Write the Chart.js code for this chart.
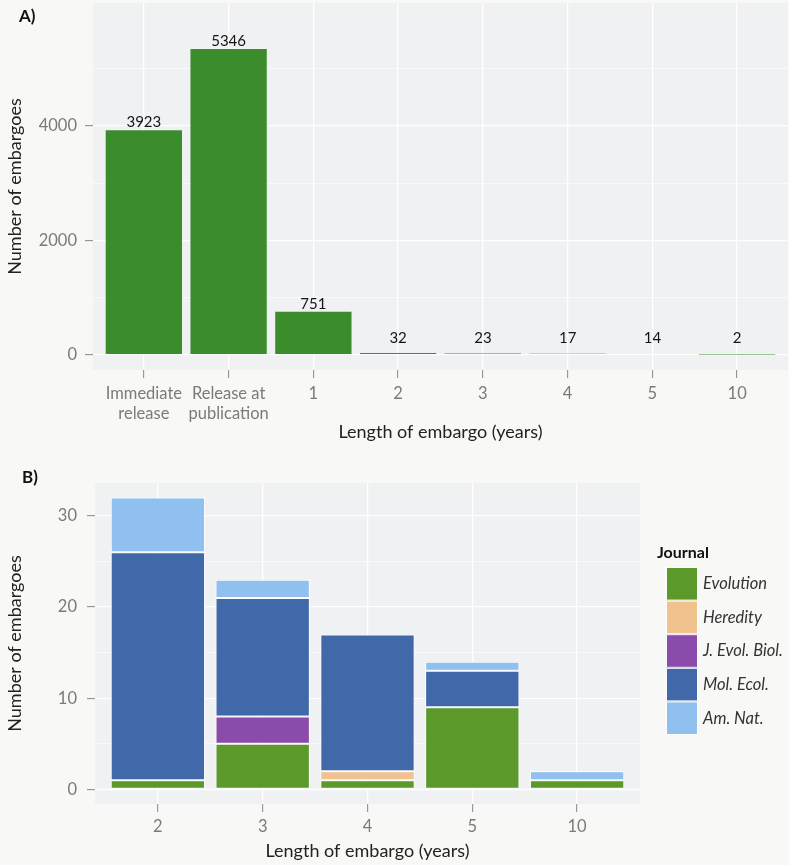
<!DOCTYPE html>
<html>
<head>
<meta charset="utf-8">
<script src="https://cdn.jsdelivr.net/npm/chart.js@4.4.1/dist/chart.umd.min.js"></script>
<style>
  html, body { margin: 0; padding: 0; background: #f8f8f7; }
  body { width: 789px; height: 865px; position: relative; overflow: hidden; font-family: Lato, sans-serif; }
  .wrap { position: absolute; left: 0; width: 789px; }
  #wa { top: 0; height: 446px; }
  #wb { top: 460px; height: 405px; }
  .tag { position: absolute; font: bold 17px Lato, sans-serif; color: #111; }
</style>
</head>
<body>
<div class="wrap" id="wa"><canvas id="ca" width="789" height="446"></canvas></div>
<div class="wrap" id="wb"><canvas id="cb" width="789" height="405"></canvas></div>
<div class="tag" style="left:19px;top:5px">A)</div>
<div class="tag" style="left:22px;top:466px">B)</div>
<script>
// Panel A: all embargoes by length
const embargoLabels = [["Immediate", "release"], ["Release at", "publication"], "1", "2", "3", "4", "5", "10"];
const embargoCounts = [3923, 5346, 751, 32, 23, 17, 14, 2];
const countTicks = [0, 2000, 4000];
const countMinorTicks = [1000, 3000, 5000];

// Panel B: embargoes of two years or more, by journal
const lengthLabels = ["2", "3", "4", "5", "10"];
const journals = ["Evolution", "Heredity", "J. Evol. Biol.", "Mol. Ecol.", "Am. Nat."];
const evolution = [1, 5, 1, 9, 1];
const heredity  = [0, 0, 1, 0, 0];
const jEvolBiol = [0, 3, 0, 0, 0];
const molEcol   = [25, 13, 15, 4, 0];
const amNat     = [6, 2, 0, 1, 1];
const journalTicks = [0, 10, 20, 30];
const journalMinorTicks = [5, 15, 25];

const journalColors = ["#5b9a2a", "#efc28e", "#8a4bab", "#4169aa", "#90c0f0"];
const FONT = "Lato";
const TICK_SIZE = 16.5;
const TITLE_SIZE = 18;

Chart.defaults.font.family = FONT;
Chart.defaults.animation = false;

// grey ggplot-style panel behind the plotting area
const panelBg = {
  id: "panelBg",
  beforeDraw(chart) {
    const { ctx, chartArea: a } = chart;
    ctx.save();
    ctx.fillStyle = "#eff1f3";
    ctx.fillRect(a.left, a.top, a.right - a.left, a.bottom - a.top);
    ctx.restore();
  }
};

// count written above each bar
const valueLabels = {
  id: "valueLabels",
  afterDatasetsDraw(chart) {
    const ctx = chart.ctx;
    const meta = chart.getDatasetMeta(0);
    const zeroY = chart.scales.y.getPixelForValue(0);
    ctx.save();
    ctx.font = "15px " + FONT;
    ctx.fillStyle = "#151515";
    ctx.textAlign = "center";
    ctx.textBaseline = "alphabetic";
    meta.data.forEach((bar, i) => {
      const y = Math.min(bar.y - 3, zeroY - 12);
      ctx.fillText(String(embargoCounts[i]), bar.x, y);
    });
    ctx.restore();
  }
};

// fill legend with stacked colour keys
const journalKey = {
  id: "journalKey",
  afterDraw(chart) {
    const ctx = chart.ctx;
    const x0 = 666, y0 = 107, w = 32, h = 33.6;
    ctx.save();
    ctx.font = "bold 16px " + FONT;
    ctx.fillStyle = "#111";
    ctx.textAlign = "left";
    ctx.textBaseline = "middle";
    ctx.fillText("Journal", 657, 93);
    chart.data.datasets.forEach((ds, i) => {
      const y = y0 + i * h;
      ctx.fillStyle = ds.backgroundColor;
      ctx.fillRect(x0, y, w, h);
      ctx.strokeStyle = "#ffffff";
      ctx.lineWidth = 1;
      ctx.strokeRect(x0 + 0.5, y + 0.5, w - 1, h - 1);
      ctx.fillStyle = "#333";
      ctx.font = "italic 16.5px " + FONT;
      ctx.fillText(ds.label, x0 + w + 5, y + h / 2);
    });
    ctx.restore();
  }
};

function yAxis(major, minor, min, max, width, pad) {
  return {
    type: "linear",
    bounds: "data",
    min: min,
    max: max,
    afterBuildTicks: s => { s.ticks = major.concat(minor).sort((a, b) => a - b).map(v => ({ value: v })); },
    afterFit: s => { s.width = width; s.paddingTop = 0; s.paddingBottom = 0; },
    border: { display: false },
    grid: {
      color: "#ffffff",
      lineWidth: c => (c.tick && major.includes(c.tick.value)) ? 1.3 : 0.6,
      tickColor: c => (c.tick && major.includes(c.tick.value)) ? "#888888" : "rgba(0,0,0,0)",
      tickLength: 8,
      tickWidth: 1
    },
    ticks: {
      callback: v => major.includes(v) ? String(v) : "",
      color: "#7a7a7a",
      font: { size: TICK_SIZE },
      padding: pad
    },
    title: {
      display: true,
      text: "Number of embargoes",
      color: "#222",
      font: { size: TITLE_SIZE },
      padding: { top: 4, bottom: 4 }
    }
  };
}

function xAxis(labels, height, pad) {
  return {
    type: "linear",
    bounds: "data",
    offset: false,
    stacked: true,
    min: -0.6,
    max: labels.length - 1 + 0.6,
    afterBuildTicks: s => { s.ticks = labels.map((_, i) => ({ value: i })); },
    afterFit: s => { s.height = height; s.paddingLeft = 0; s.paddingRight = 0; },
    border: { display: false },
    grid: { offset: false, color: "#ffffff", lineWidth: 1.3, tickColor: "#888888", tickLength: 8, tickWidth: 1 },
    ticks: {
      callback: v => labels[v],
      color: "#7a7a7a",
      font: { size: TICK_SIZE, lineHeight: 1.2 },
      padding: pad,
      maxRotation: 0,
      autoSkip: false
    },
    title: {
      display: true,
      text: "Length of embargo (years)",
      color: "#222",
      font: { size: TITLE_SIZE },
      padding: { top: 4, bottom: 3 }
    }
  };
}

const maxA = Math.max(...embargoCounts);
new Chart(document.getElementById("ca"), {
  type: "bar",
  data: {
    datasets: [{
      data: embargoCounts.map((v, i) => ({ x: i, y: v })),
      backgroundColor: "#3b8c2b",
      borderWidth: 0,
      categoryPercentage: 0.9,
      barPercentage: 1
    }]
  },
  options: {
    responsive: false,
    layout: { padding: { top: 3, right: 1, left: 0, bottom: 0 } },
    plugins: { legend: { display: false }, tooltip: { enabled: false } },
    scales: {
      x: xAxis(embargoLabels, 76, 6),
      y: yAxis(countTicks, countMinorTicks, -0.05 * maxA, 1.15 * maxA, 93, 8)
    }
  },
  plugins: [panelBg, valueLabels]
});

const journalSeries = [evolution, heredity, jEvolBiol, molEcol, amNat];
const totals = lengthLabels.map((_, i) => journalSeries.reduce((s, arr) => s + arr[i], 0));
const maxB = Math.max(...totals);
const yB = yAxis(journalTicks, journalMinorTicks, -0.05 * maxB, 1.05 * maxB, 95, 10);
yB.stacked = true;

new Chart(document.getElementById("cb"), {
  type: "bar",
  data: {
    datasets: journals.map((name, j) => ({
      label: name,
      data: journalSeries[j].map((v, i) => ({ x: i, y: v === 0 ? null : v })),
      backgroundColor: journalColors[j],
      borderColor: "#ffffff",
      borderWidth: 1,
      borderSkipped: false,
      categoryPercentage: 0.9,
      barPercentage: 1
    }))
  },
  options: {
    responsive: false,
    layout: { padding: { top: 23, right: 149, left: 0, bottom: 0 } },
    plugins: { legend: { display: false }, tooltip: { enabled: false } },
    scales: {
      x: xAxis(lengthLabels, 61, 5),
      y: yB
    }
  },
  plugins: [panelBg, journalKey]
});
</script>
</body>
</html>
